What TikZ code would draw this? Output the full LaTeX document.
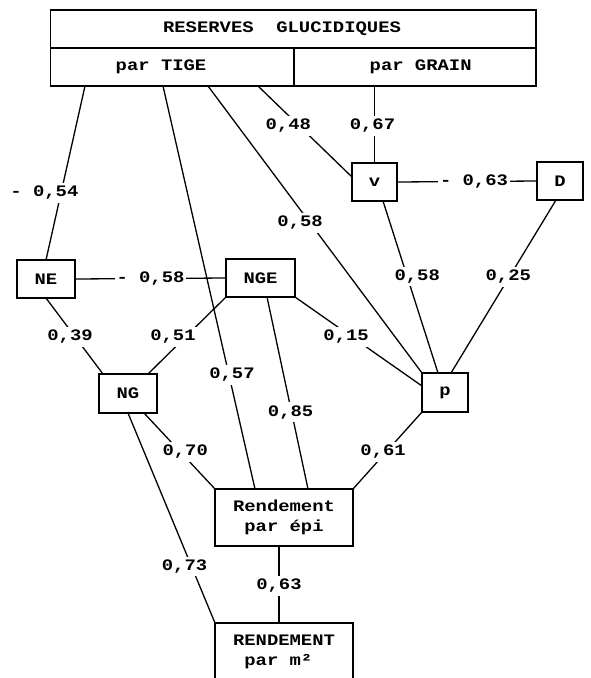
\documentclass[tikz,border=0pt]{standalone}
\usepackage{fontspec}
\newfontfamily\diagfont{Liberation Mono}[FakeStretch=1.18]
\usetikzlibrary{calc}

\begin{document}
\begin{tikzpicture}[x=1pt,y=-1pt,
  font=\diagfont\bfseries\fontsize{16}{20}\selectfont,
  cellbox/.style={draw, line width=1.2pt, fill=white, inner sep=0pt,
    outer sep=0pt, align=center},
  coef/.style={fill=white, inner xsep=2pt, inner ysep=3pt},
  link/.style={line width=1.3pt}]

\useasboundingbox (0,0) rectangle (591,678);
\clip (0,0) rectangle (591,678);

% header table
\node[cellbox, minimum width=485.3, minimum height=38] (res) at (293.35,29)
  {RESERVES~~GLUCIDIQUES\hphantom{xx}};
\node[cellbox, minimum width=243.3, minimum height=38] (tige) at (172.35,67)
  {par TIGE\hphantom{xx}};
\node[cellbox, minimum width=242, minimum height=38] (grain) at (415,67)
  {\hphantom{x}par GRAIN};

% variables
\node[cellbox, minimum width=45, minimum height=38] (v) at (374.5,182) {v};
\node[cellbox, minimum width=46, minimum height=38] (d) at (560,181) {D};
\node[cellbox, minimum width=58, minimum height=38] (ne) at (46,279) {NE};
\node[cellbox, minimum width=69, minimum height=38] (nge) at (260.5,278) {NGE};
\node[cellbox, minimum width=58, minimum height=39] (ng) at (128,393.5) {NG};
\node[cellbox, minimum width=46, minimum height=39] (p) at (445,392.5) {p};
\node[cellbox, minimum width=138, minimum height=57] (epi) at (284,517.5)
  {Rendement\\par épi};
\node[cellbox, minimum width=138, minimum height=80] (rend) at (284,663)
  {RENDEMENT\\par m²\hphantom{x}\\\strut};

% correlation links
\draw[link] ($(tige.south west)+(34.3,0)$) -- (ne.north)
  node[coef, pos=0.615, xshift=-16.6pt] {-~0,54};
\draw[link] ($(tige.south west)+(112.3,0)$) -- ($(epi.north west)+(40,0)$)
  node[coef, pos=0.717, xshift=3pt] {0,57};
\draw[link] ($(tige.south west)+(157.3,0)$) -- (p.north west)
  node[coef, pos=0.477, xshift=-10pt] {0,58};
\draw[link] ($(tige.south west)+(207.3,0)$) -- ($(v.north west)+(0,14)$)
  node[coef, pos=0.44, xshift=-11pt] {0,48};
\draw[link] (v.north) -- (v.north |- grain.south)
  node[coef, pos=0.48, xshift=-2pt] {0,67};
\draw[link] (v.east) -- (d.west)
  node[coef, pos=0.55] {-~0,63};
\draw[link] ($(v.south west)+(31,0)$) -- ($(p.north west)+(16,0)$)
  node[coef, pos=0.44, xshift=10pt] {0,58};
\draw[link] ($(d.south)+(-4,0)$) -- ($(p.north west)+(29,0)$)
  node[coef, pos=0.445, xshift=-1pt] {0,25};
\draw[link] (ne.east) -- (nge.west)
  node[coef, pos=0.5] {-~0,58};
\draw[link] (ne.south) -- ($(ng.north west)+(4,0)$)
  node[coef, pos=0.51, xshift=-5pt] {0,39};
\draw[link] (nge.south west) -- ($(ng.north east)+(-9,0)$)
  node[coef, pos=0.52, xshift=-12.5pt] {0,51};
\draw[link] ($(nge.south west)+(41,0)$) -- ($(epi.north west)+(93,0)$)
  node[coef, pos=0.6, xshift=-1pt] {0,85};
\draw[link] (nge.south east) -- ($(p.north west)+(0,13)$)
  node[coef, pos=0.45, xshift=-6pt] {0,15};
\draw[link] ($(ng.south west)+(45,0)$) -- (epi.north west)
  node[coef, pos=0.51, xshift=5pt] {0,70};
\draw[link] ($(ng.south west)+(29,0)$) -- (rend.north west)
  node[coef, pos=0.73, xshift=-7pt] {0,73};
\draw[link] (p.south west) -- (epi.north east)
  node[coef, pos=0.52, xshift=-3pt] {0,61};
\draw[link] ($(epi.south)+(-5,0)$) -- ($(rend.north)+(-5,0)$)
  node[coef, pos=0.52] {0,63};

\end{tikzpicture}
\end{document}
